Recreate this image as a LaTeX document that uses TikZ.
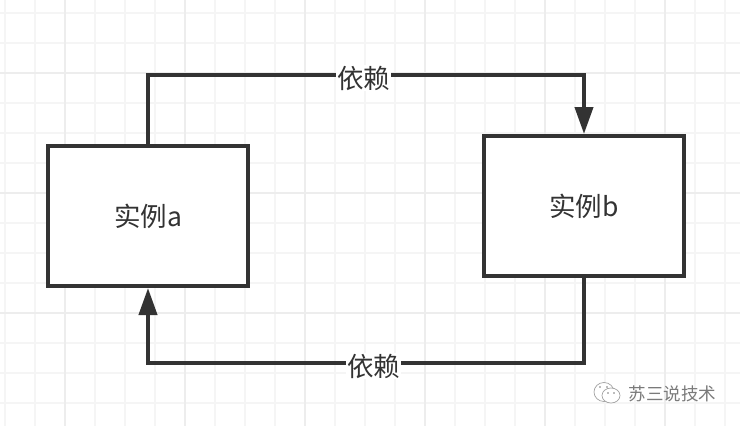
\documentclass[tikz,border=0pt]{standalone}
\usepackage{fontspec}
\setmainfont{Noto Sans CJK SC}
\usetikzlibrary{arrows.meta}
\definecolor{ink}{HTML}{333333}
\definecolor{gridminor}{HTML}{F5F5F5}
\definecolor{gridmajor}{HTML}{EDEDED}
\definecolor{markgray}{HTML}{7A7A7A}
\tikzset{
  box/.style={draw=ink,line width=4pt,fill=white,minimum width=200pt,minimum height=140pt,
    inner sep=0pt,outer sep=2pt,text=ink,font=\fontsize{26.5}{26.5}\selectfont},
  link/.style={draw=ink,line width=4pt,line join=miter},
  headed/.style={-{Triangle[length=27pt,width=18pt,fill=ink]}},
  tag/.style={fill=white,text=ink,inner sep=1pt,yshift=-3pt,font=\fontsize{26.5}{26.5}\selectfont},
  finegrid/.style={gridminor,line width=1.5pt},
  boldgrid/.style={gridmajor,line width=1.5pt},
  chat/.style={draw=markgray!70,line width=.7pt,fill=white},
}
\begin{document}
\begin{tikzpicture}[x=1pt,y=-1pt]
  \useasboundingbox (0,0) rectangle (740,426);
  \fill[white] (0,0) rectangle (740,426);
  % paper grid: a heavier line every fourth cell
  \foreach \gx in {5,35,...,725} \draw[finegrid] (\gx,0) -- (\gx,426);
  \foreach \gy in {13,43,...,403} \draw[finegrid] (0,\gy) -- (740,\gy);
  \foreach \gx in {65,185,...,665} \draw[boldgrid] (\gx,0) -- (\gx,426);
  \foreach \gy in {73,193,313} \draw[boldgrid] (0,\gy) -- (740,\gy);

  \node[box] (a) at (148,216) {\raisebox{-2.5pt}{实例a}};
  \node[box] (b) at (584,206) {\raisebox{-2pt}{实例b}};

  \coordinate (toprail) at (0,75);
  \coordinate (lowrail) at (0,363);

  \draw[link,headed] (a.north) -- (a.north |- toprail)
    -- node[tag,pos=.495] (upper) {依赖} (b.north |- toprail) -- (b.north);
  \draw[link,headed] (b.south) -- (b.south |- lowrail)
    -- node[tag,pos=.482] (lower) {依赖} (a.south |- lowrail) -- (a.south);

  % chat-bubble mark beside the account name
  \draw[chat] (604,392) ellipse (10pt and 9.5pt);
  \draw[chat] (611,395.5) ellipse (9pt and 7.5pt);
  \fill[markgray] (600,387) circle (.9pt) (607,387) circle (.9pt)
                  (608,393) circle (.8pt) (614,393) circle (.8pt);
  \node[text=markgray,inner sep=0pt,font=\fontsize{17.5}{18}\selectfont] (mark) at (672.5,394) {苏三说技术};
\end{tikzpicture}
\end{document}
